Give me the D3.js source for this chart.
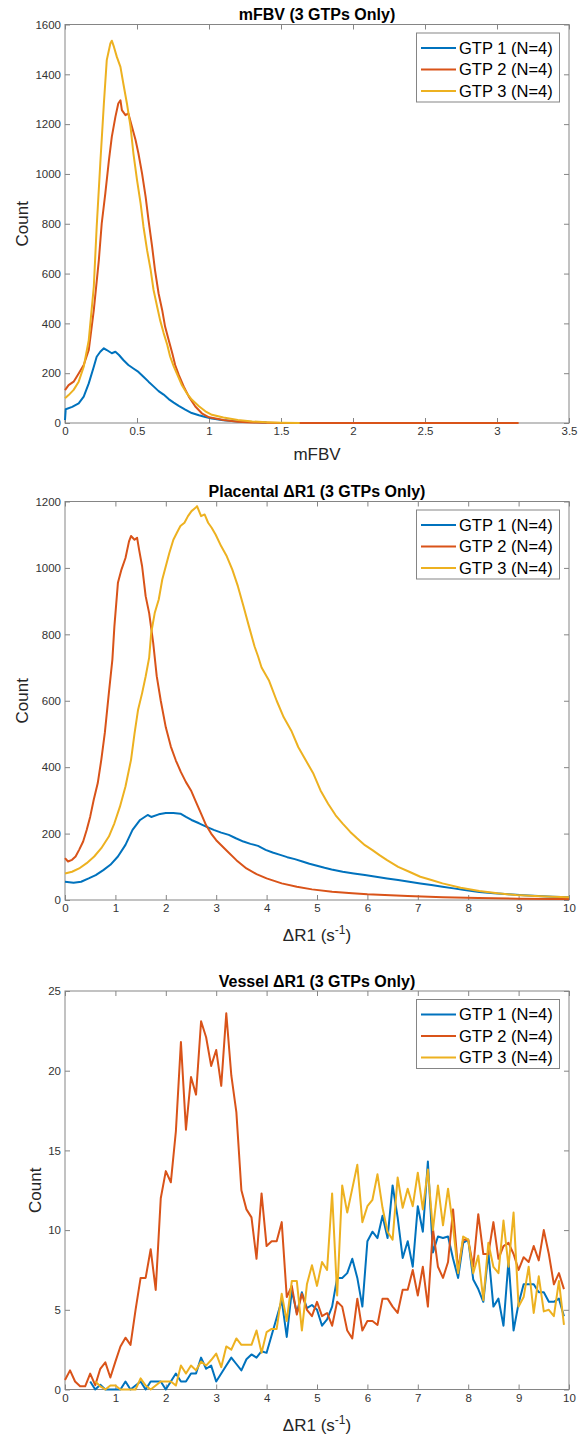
<!DOCTYPE html>
<html lang="en">
<head>
<meta charset="UTF-8">
<title>GTP histograms</title>
<style>
* { margin: 0; padding: 0; }
body { background: #fff; }
svg text { font-family: "Liberation Sans", Arial, Helvetica, sans-serif; }
</style>
<script src="https://cdn.jsdelivr.net/npm/d3@7"></script>
</head>
<body>
<svg width="578" height="1437" id="chart"></svg>
<script>
const seriesNames = ['GTP 1 (N=4)', 'GTP 2 (N=4)', 'GTP 3 (N=4)'];
const colors = ['#0072BD', '#D95319', '#EDB120'];

// mFBV histogram
const fbvX1 = [0, 0.005, 0.05, 0.095, 0.13, 0.165, 0.2, 0.22, 0.245, 0.27, 0.29, 0.325, 0.35, 0.375, 0.405, 0.44, 0.475, 0.51, 0.545, 0.58, 0.615, 0.65, 0.685, 0.72, 0.755, 0.79, 0.835, 0.88, 0.93, 0.975, 1.02, 1.1, 1.2, 1.3, 1.4];
const fbvY1 = [12, 55, 65, 79, 106, 159, 226, 266, 286, 300, 293, 280, 286, 273, 253, 233, 219, 205, 186, 166, 147, 128, 114, 96, 82, 69, 54, 40, 31, 24, 18, 11, 6, 4, 2];
const fbvX2 = [0, 0.025, 0.06, 0.095, 0.13, 0.165, 0.2, 0.235, 0.255, 0.28, 0.305, 0.325, 0.35, 0.37, 0.385, 0.395, 0.42, 0.44, 0.465, 0.49, 0.51, 0.535, 0.56, 0.58, 0.605, 0.625, 0.65, 0.675, 0.695, 0.72, 0.745, 0.765, 0.79, 0.825, 0.86, 0.905, 0.95, 1.0, 1.1, 1.2, 1.3, 1.4, 1.5, 1.65, 3.15];
const fbvY2 = [132, 152, 166, 199, 233, 293, 453, 654, 801, 922, 1055, 1149, 1229, 1283, 1296, 1256, 1236, 1243, 1189, 1136, 1082, 1002, 908, 815, 708, 614, 520, 453, 387, 333, 280, 233, 193, 146, 106, 66, 39, 23, 12, 5, 2, 1, 0, 0, 0];
const fbvX3 = [0, 0.025, 0.06, 0.095, 0.13, 0.165, 0.2, 0.22, 0.245, 0.27, 0.29, 0.315, 0.325, 0.34, 0.36, 0.385, 0.405, 0.43, 0.455, 0.475, 0.5, 0.525, 0.545, 0.57, 0.595, 0.615, 0.64, 0.66, 0.685, 0.71, 0.73, 0.755, 0.78, 0.81, 0.845, 0.88, 0.93, 0.975, 1.02, 1.1, 1.2, 1.3, 1.4, 1.5, 1.63];
const fbvY3 = [99, 112, 133, 166, 226, 333, 547, 787, 1042, 1283, 1457, 1524, 1535, 1510, 1470, 1430, 1363, 1283, 1190, 1083, 976, 882, 788, 694, 614, 534, 467, 414, 361, 314, 267, 227, 194, 154, 120, 94, 67, 47, 33, 22, 12, 6, 3, 1, 0];

// placental dR1 histogram
const plaX1 = [0, 0.17, 0.32, 0.47, 0.61, 0.76, 0.9, 1.05, 1.2, 1.34, 1.49, 1.64, 1.71, 1.86, 2.0, 2.15, 2.29, 2.4, 2.51, 2.66, 2.8, 2.95, 3.1, 3.25, 3.39, 3.54, 3.68, 3.83, 3.98, 4.12, 4.27, 4.41, 4.56, 4.71, 4.85, 5.0, 5.15, 5.29, 5.51, 5.73, 5.95, 6.17, 6.39, 6.61, 6.83, 7.05, 7.27, 7.49, 7.71, 7.93, 8.22, 8.51, 8.8, 9.1, 9.39, 9.68, 10];
const plaY1 = [55, 52, 55, 65, 75, 90, 106, 131, 166, 211, 241, 256, 250, 258, 262, 262, 260, 250, 241, 231, 221, 211, 203, 196, 186, 176, 169, 163, 151, 143, 136, 129, 123, 116, 109, 103, 97, 92, 85, 80, 75, 70, 65, 60, 55, 50, 45, 40, 35, 30, 24, 20, 17, 14, 12, 10, 8];
const plaX2 = [0, 0.06, 0.14, 0.21, 0.28, 0.36, 0.43, 0.5, 0.57, 0.65, 0.72, 0.79, 0.87, 0.94, 0.98, 1.05, 1.12, 1.2, 1.27, 1.31, 1.38, 1.43, 1.47, 1.53, 1.6, 1.67, 1.75, 1.82, 1.9, 2.0, 2.1, 2.2, 2.3, 2.4, 2.5, 2.6, 2.7, 2.8, 2.9, 3.0, 3.2, 3.4, 3.6, 3.8, 4.0, 4.3, 4.6, 4.9, 5.3, 5.7, 6.0, 6.8, 7.5, 8.2, 9.0, 9.7, 10];
const plaY2 = [126, 116, 121, 131, 151, 176, 211, 251, 302, 352, 422, 503, 623, 724, 824, 955, 995, 1030, 1080, 1096, 1085, 1091, 1055, 1005, 915, 864, 774, 674, 600, 520, 462, 420, 385, 355, 330, 295, 260, 225, 200, 180, 150, 120, 95, 78, 65, 50, 40, 32, 25, 20, 17, 12, 8, 6, 4, 3, 3];
const plaX3 = [0, 0.14, 0.28, 0.43, 0.58, 0.72, 0.87, 0.98, 1.09, 1.2, 1.31, 1.38, 1.45, 1.53, 1.6, 1.67, 1.71, 1.78, 1.86, 1.93, 2.0, 2.07, 2.15, 2.22, 2.29, 2.37, 2.44, 2.51, 2.59, 2.62, 2.7, 2.77, 2.84, 2.91, 2.99, 3.1, 3.21, 3.32, 3.43, 3.54, 3.65, 3.76, 3.83, 3.9, 4.05, 4.2, 4.34, 4.49, 4.63, 4.78, 4.93, 5.07, 5.22, 5.37, 5.51, 5.66, 5.8, 5.95, 6.1, 6.24, 6.39, 6.61, 6.83, 7.05, 7.27, 7.49, 7.85, 8.22, 8.58, 8.95, 9.32, 9.68, 10];
const plaY3 = [80, 85, 95, 111, 131, 156, 191, 231, 281, 342, 422, 502, 573, 623, 673, 730, 804, 864, 905, 965, 1005, 1045, 1085, 1106, 1126, 1136, 1156, 1171, 1181, 1186, 1156, 1161, 1136, 1121, 1100, 1065, 1035, 995, 945, 885, 824, 764, 734, 700, 660, 600, 550, 510, 460, 420, 380, 330, 290, 255, 230, 205, 185, 165, 150, 135, 120, 100, 85, 70, 60, 50, 37, 27, 20, 15, 12, 10, 8];

// vessel dR1 histogram, bins of 0.1
const vesselBin = 0.1;
const vesselStart = [0.5, 0, 0.6];
const vessel1 = [0.5, 0, 0.3, 0, 0,
  0, 0, 0.5, 0, 0.25, 0.5, 0, 0.5, 0.5, 0.5,
  0, 0.5, 1.0, 0.5, 0.5, 1.0, 1.0, 2.0, 1.3, 1.5,
  0.5, 1.0, 1.5, 2.0, 1.6, 1.2, 1.9, 2.2, 2.0, 2.4,
  2.3, 3.4, 4.5, 5.6, 3.3, 6.2, 4.8, 6.1, 5.1, 5.3,
  5.0, 4.0, 4.4, 5.2, 7.0, 7.0, 7.3, 8.2, 7.0, 5.2,
  9.3, 9.9, 9.5, 10.9, 9.5, 12.8, 10.8, 8.25, 9.3, 7.7,
  11.5, 9.9, 14.3, 8.6, 9.6, 9.5, 9.6, 8.2, 7.0, 9.2,
  9.4, 6.9, 6.3, 5.5, 8.6, 5.2, 5.7, 4.0, 8.1, 3.7,
  5.4, 6.6, 6.6, 6.6, 6.1, 6.1, 5.5, 5.5, 5.7, 4.6];
const vessel2 = [0.6, 1.2, 0.5, 0.2, 0.2, 1.0, 0.27, 1.3, 1.7, 0.75,
  1.75, 2.7, 3.25, 2.8, 5.0, 7.0, 7.0, 8.8, 6.25, 12.0,
  13.7, 13.0, 16.2, 21.8, 16.3, 19.6, 18.5, 23.1, 22.1, 20.3,
  21.3, 19.05, 23.6, 19.7, 17.4, 12.5, 11.3, 10.8, 8.2, 12.3,
  9.0, 9.3, 9.3, 10.5, 5.8, 6.5, 4.7, 6.0, 5.0, 4.6,
  5.5, 4.6, 4.8, 4.0, 5.5, 5.2, 3.7, 3.2, 5.7, 3.7,
  4.3, 4.3, 4.05, 5.7, 5.7, 5.2, 4.8, 6.26, 6.26, 7.5,
  5.9, 7.7, 5.2, 10.1, 7.7, 7.0, 8.0, 11.3, 7.5, 9.4,
  9.4, 7.7, 11.0, 8.5, 8.5, 10.5, 8.2, 9.0, 9.2, 8.5,
  7.5, 8.3, 8.0, 9.0, 8.1, 10.0, 8.5, 6.6, 7.3, 6.3];
const vessel3 = [0.5, 0.2, 0, 0.25,
  0.25, 0, 0, 0, 0, 0.7, 0.25, 0, 0.25, 0.5,
  0.5, 0.5, 0.25, 1.5, 1.0, 1.5, 1.2, 1.75, 1.5, 1.85,
  2.25, 1.4, 2.7, 2.5, 3.2, 2.8, 2.8, 2.8, 3.7, 2.3,
  3.6, 3.8, 3.8, 6.0, 4.3, 6.8, 6.8, 3.7, 6.6, 7.8,
  6.5, 8.0, 7.5, 12.3, 5.9, 12.8, 11.1, 12.6, 14.1, 10.5,
  11.5, 11.9, 13.5, 11.4, 9.9, 9.4, 13.3, 11.4, 12.6, 11.5,
  13.6, 11.3, 13.8, 10.0, 12.8, 10.3, 12.6, 10.2, 7.3, 9.6,
  9.4, 7.3, 8.4, 5.6, 9.2, 7.7, 7.3, 10.6, 7.7, 11.1,
  5.2, 5.8, 7.7, 4.8, 7.1, 4.9, 5.0, 4.6, 6.8, 4.05];

const svg = d3.select('#chart');
const left = 65, right = 569, plotH = 398.5;
const boxColor = '#858585';

const zip = (xs, ys) => xs.map((v, i) => [v, ys[i]]);
const binned = (start, ys) => ys.map((v, i) => [start + i * vesselBin, v]);

const panels = [
  {
    top: 24.5, title: 'mFBV (3 GTPs Only)', xLabel: 'mFBV', labelGap: 36.5, countX: 27.5,
    xDomain: [0, 3.5], xTicks: d3.range(0, 3.51, 0.5), yDomain: [0, 1600], yTicks: d3.range(0, 1601, 200),
    series: [zip(fbvX1, fbvY1), zip(fbvX2, fbvY2), zip(fbvX3, fbvY3)]
  },
  {
    top: 501.5, title: 'Placental \u0394R1 (3 GTPs Only)', xLabel: null, labelGap: 41, countX: 27.5,
    xDomain: [0, 10], xTicks: d3.range(0, 11), yDomain: [0, 1200], yTicks: d3.range(0, 1201, 200),
    series: [zip(plaX1, plaY1), zip(plaX2, plaY2), zip(plaX3, plaY3)]
  },
  {
    top: 991, title: 'Vessel \u0394R1 (3 GTPs Only)', xLabel: null, labelGap: 41, countX: 40.5,
    xDomain: [0, 10], xTicks: d3.range(0, 11), yDomain: [0, 25], yTicks: d3.range(0, 26, 5),
    series: [binned(vesselStart[0], vessel1), binned(vesselStart[1], vessel2), binned(vesselStart[2], vessel3)]
  }
];

function styleAxis(sel) {
  sel.select('.domain').remove();
  sel.attr('font-size', null).attr('font-family', null);
  sel.selectAll('line').attr('stroke', boxColor);
  sel.selectAll('text').attr('fill', '#333').attr('font-size', '11.5px');
}

panels.forEach(p => {
  const g = svg.append('g');
  const bottom = p.top + plotH;
  const x = d3.scaleLinear().domain(p.xDomain).range([left, right]);
  const y = d3.scaleLinear().domain(p.yDomain).range([bottom, p.top]);
  const fmt = d3.format('~g');

  // ticks point inward on all four sides
  g.append('g').attr('transform', `translate(0,${bottom})`)
    .call(d3.axisBottom(x).tickValues(p.xTicks).tickFormat(fmt).tickSizeInner(-5).tickSizeOuter(0).tickPadding(4))
    .call(styleAxis);
  g.append('g').attr('transform', `translate(0,${p.top})`)
    .call(d3.axisTop(x).tickValues(p.xTicks).tickFormat('').tickSizeInner(-5).tickSizeOuter(0))
    .call(styleAxis);
  g.append('g').attr('transform', `translate(${left},0)`)
    .call(d3.axisLeft(y).tickValues(p.yTicks).tickFormat(fmt).tickSizeInner(-5).tickSizeOuter(0).tickPadding(4))
    .call(styleAxis);
  g.append('g').attr('transform', `translate(${right},0)`)
    .call(d3.axisRight(y).tickValues(p.yTicks).tickFormat('').tickSizeInner(-5).tickSizeOuter(0))
    .call(styleAxis);

  g.append('rect')
    .attr('x', left).attr('y', p.top)
    .attr('width', right - left).attr('height', plotH)
    .attr('fill', 'none').attr('stroke', boxColor).attr('stroke-width', 1);

  // lines
  const line = d3.line().x(d => x(d[0])).y(d => y(d[1]));
  g.selectAll('path.series').data(p.series).enter()
    .append('path')
    .attr('class', 'series')
    .attr('d', line)
    .attr('fill', 'none')
    .attr('stroke', (d, i) => colors[i])
    .attr('stroke-width', 2)
    .attr('stroke-linejoin', 'round');

  // title
  g.append('text')
    .attr('x', (left + right) / 2).attr('y', p.top - 4.5)
    .attr('text-anchor', 'middle')
    .attr('font-size', '16px').attr('font-weight', 'bold').attr('fill', '#000')
    .text(p.title);

  // x label
  const xl = g.append('text')
    .attr('x', (left + right) / 2).attr('y', bottom + p.labelGap)
    .attr('text-anchor', 'middle')
    .attr('font-size', '17px').attr('fill', '#262626');
  if (p.xLabel) {
    xl.text(p.xLabel);
  } else {
    xl.append('tspan').text('\u0394R1 (s');
    xl.append('tspan').attr('dy', -7).attr('font-size', '12px').text('-1');
    xl.append('tspan').attr('dy', 7).text(')');
  }

  // y label
  g.append('text')
    .attr('transform', `translate(${p.countX},${p.top + plotH / 2}) rotate(-90)`)
    .attr('text-anchor', 'middle')
    .attr('font-size', '17px').attr('fill', '#262626')
    .text('Count');

  // legend
  const lg = g.append('g').attr('transform', `translate(416.5,${p.top + 8.5})`);
  lg.append('rect')
    .attr('width', 143).attr('height', 69)
    .attr('fill', '#fff').attr('stroke', boxColor).attr('stroke-width', 1);
  seriesNames.forEach((name, i) => {
    const cy = 15 + i * 21.5;
    lg.append('line')
      .attr('x1', 4.5).attr('x2', 39.5).attr('y1', cy).attr('y2', cy)
      .attr('stroke', colors[i]).attr('stroke-width', 2);
    lg.append('text')
      .attr('x', 42.5).attr('y', cy).attr('dy', '0.36em')
      .attr('font-size', '16.5px').attr('fill', '#000')
      .text(name);
  });
});
</script>
</body>
</html>
